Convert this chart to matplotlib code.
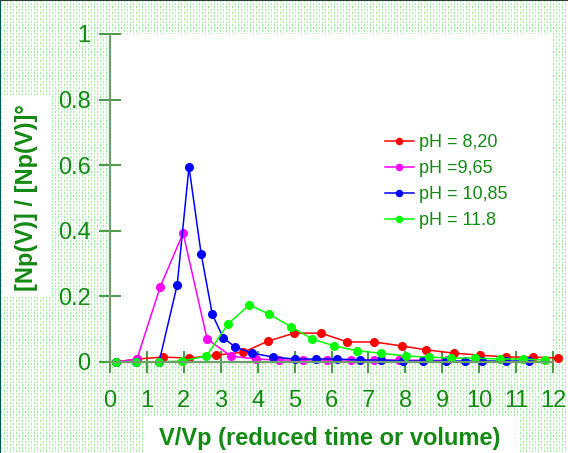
import numpy as np
import matplotlib
matplotlib.use("Agg")
import matplotlib.pyplot as plt
from matplotlib.patches import Rectangle

plt.rcParams["font.family"] = ["Liberation Sans", "DejaVu Sans"]

# data
red_x = [0.16, 0.73, 1.44, 2.14, 2.88, 3.61, 4.29, 4.99, 5.72, 6.43, 7.16, 7.90, 8.57, 9.31, 10.01, 10.74, 11.45, 12.13]
red_y = [0, 0.009, 0.015, 0.012, 0.021, 0.030, 0.064, 0.088, 0.088, 0.061, 0.061, 0.049, 0.037, 0.027, 0.021, 0.015, 0.015, 0.012]
mag_x = [0.16, 0.73, 1.36, 1.98, 2.63, 3.28, 3.96, 4.59, 5.24, 5.89, 6.54, 7.16, 7.84, 8.49, 9.14]
mag_y = [0, 0.009, 0.229, 0.393, 0.070, 0.018, 0.009, 0.006, 0.006, 0.006, 0.006, 0.006, 0.006, 0.005, 0.005]
blue_x = [0.16, 0.71, 1.33, 1.82, 2.14, 2.47, 2.77, 3.07, 3.39, 3.85, 4.42, 5.02, 5.59, 6.16, 6.76, 7.35, 7.95, 8.49,
          9.09, 9.61, 10.09, 10.72, 11.34]
blue_y = [0, 0, 0, 0.235, 0.595, 0.329, 0.146, 0.073, 0.046, 0.027, 0.015, 0.009, 0.009, 0.009, 0.006, 0.006, 0.003,
          0.003, 0.003, 0.003, 0.003, 0.003, 0.003]
green_x = [0.16, 0.71, 1.33, 1.95, 2.61, 3.20, 3.77, 4.31, 4.91, 5.48, 6.08, 6.70, 7.33, 8.01, 8.63, 9.25, 9.88, 10.56,
           11.18, 11.78]
green_y = [0, 0, 0, 0.003, 0.018, 0.116, 0.174, 0.146, 0.107, 0.070, 0.049, 0.034, 0.027, 0.018, 0.015, 0.012, 0.012,
           0.009, 0.009, 0.006]
series = [("pH = 8,20", red_x, red_y, "#ff0000"),
          ("pH =9,65", mag_x, mag_y, "#ff00ff"),
          ("pH = 10,85", blue_x, blue_y, "#0000ff"),
          ("pH = 11.8", green_x, green_y, "#00ff00")]
xticks = list(range(13))
yticks = [0, 0.2, 0.4, 0.6, 0.8, 1]
ytick_labels = ["0", "0.2", "0.4", "0.6", "0.8", "1"]

W, H = 568, 453
TXT = "#138a13"

fig = plt.figure(figsize=(W / 100, H / 100), dpi=100)

# stippled green background (row 0 = top of the picture)
bg = np.ones((H, W, 3))
yy, xx = np.mgrid[0:H, 0:W]
dots = (xx % 3 == 1) & (yy % 3 != 2)
bg[dots] = np.array([150, 240, 150]) / 255
pale = dots & ((xx // 3 + yy // 3) % 2 == 0)
bg[pale] = np.array([195, 248, 195]) / 255
bg[:, 0] = np.array([0, 90, 80]) / 255
bg[0, :] = np.array([50, 60, 60]) / 255
fig.figimage(bg[::-1], xo=0, yo=0, origin="lower", zorder=-1)

# white boxes behind the axis titles
fig.patches.append(Rectangle((3 / W, 1 - 297 / H), 47 / W, 202 / H, transform=fig.transFigure,
                             facecolor="white", edgecolor="none", zorder=0.5))
fig.patches.append(Rectangle((143 / W, 0), 375 / W, 36 / H, transform=fig.transFigure,
                             facecolor="white", edgecolor="none", zorder=0.5))

ax = fig.add_axes([110 / W, 1 - 362 / H, 443 / W, 328 / H])
ax.set_facecolor("white")
for name, x, y, c in series:
    ax.plot(x, y, color=c, lw=1.1, marker="o", ms=5.5, mec=c, mfc=c, label=name, clip_on=False)

ax.set_xlim(0, 12)
ax.set_ylim(0, 1)
ax.set_xticks(xticks)
ax.set_yticks(yticks)
ax.set_yticklabels(ytick_labels)
for s in ["top", "right"]:
    ax.spines[s].set_visible(False)
for s in ["left", "bottom"]:
    ax.spines[s].set_color("#6f9f6f")
    ax.spines[s].set_linewidth(1.6)
ax.tick_params(axis="both", direction="inout", length=16, width=1.2, color="#2a8a2a",
               labelcolor=TXT, labelsize=17)
ax.tick_params(axis="y", pad=6)
ax.tick_params(axis="x", pad=12)

ax.legend(loc="upper left", bbox_to_anchor=(275 / 443, 1 - 100 / 328), frameon=False, fontsize=13,
          labelcolor=TXT, handlelength=1.6, handletextpad=0.3, labelspacing=0.5, markerscale=0.8,
          borderaxespad=0, borderpad=0)

fig.text(27 / W, 1 - 198 / H, "[Np(V)] / [Np(V)]°", rotation=90, ha="center", va="center",
         fontsize=17, fontweight="bold", color=TXT)
fig.text(330 / W, 1 - 438 / H, "V/Vp (reduced time or volume)", ha="center", va="center",
         fontsize=17, fontweight="bold", color=TXT)

fig.savefig("out.png", dpi=100)
